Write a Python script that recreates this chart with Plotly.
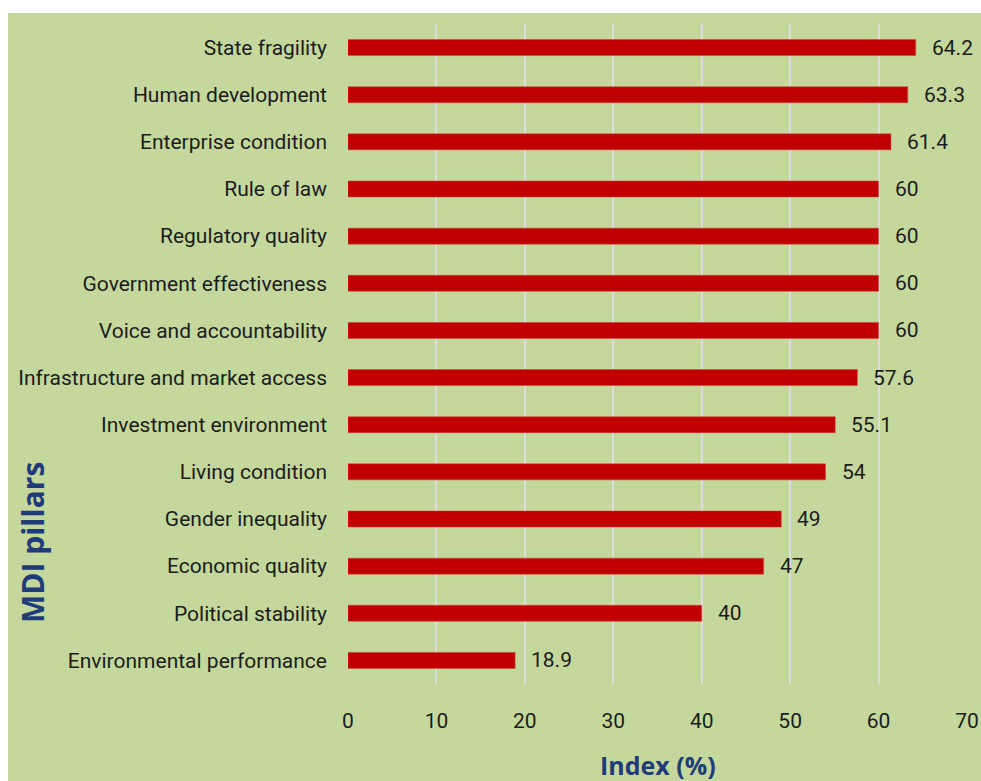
import plotly.graph_objects as go

# MDI pillar scores (index, %), listed top to bottom
pillars = [
    "State fragility",
    "Human development",
    "Enterprise condition",
    "Rule of law",
    "Regulatory quality",
    "Government effectiveness",
    "Voice and accountability",
    "Infrastructure and market access",
    "Investment environment",
    "Living condition",
    "Gender inequality",
    "Economic quality",
    "Political stability",
    "Environmental performance",
]
scores = [64.2, 63.3, 61.4, 60, 60, 60, 60, 57.6, 55.1, 54, 49, 47, 40, 18.9]
score_labels = ["64.2", "63.3", "61.4", "60", "60", "60", "60", "57.6", "55.1", "54", "49", "47", "40", "18.9"]
x_ticks = [0, 10, 20, 30, 40, 50, 60, 70]

W, H = 981, 781
L, R, T, B = 348, 14, 24, 97
pw, ph = W - L - R, H - T - B

GREEN = "#c4d79c"
FONT = "Roboto, 'Open Sans', sans-serif"
TITLE_FONT = "'Open Sans', sans-serif"
TXT = "#1c1c1c"
NAVY = "#1f3b7a"

fig = go.Figure()
fig.add_trace(go.Bar(
    x=scores,
    y=pillars,
    orientation="h",
    width=0.34,
    marker=dict(color="#c00000", line=dict(color="#d04040", width=0.5)),
    hoverinfo="x+y",
))

# value labels just past each bar end
for p, v, s in zip(pillars, scores, score_labels):
    fig.add_annotation(
        x=v, y=p, text=s, showarrow=False, xanchor="left", xshift=14,
        font=dict(family=FONT, size=21, color=TXT),
    )

# axis titles
fig.add_annotation(
    xref="paper", yref="paper", x=0.5, y=(T + ph - 765) / ph,
    text="<b>Index (%)</b>", showarrow=False, xanchor="center", yanchor="middle",
    font=dict(family=TITLE_FONT, size=25, color=NAVY),
)
fig.add_annotation(
    xref="paper", yref="paper", x=(32 - L) / pw, y=(T + ph - 543) / ph,
    text="<b>MDI pillars</b>", showarrow=False, textangle=-90,
    xanchor="center", yanchor="middle",
    font=dict(family=TITLE_FONT, size=30, color=NAVY),
)

# green panel with thin white border strips at top and left
fig.add_shape(
    type="rect", xref="paper", yref="paper", layer="below",
    x0=(8 - L) / pw, x1=(W - L) / pw + 0.01,
    y0=-(H - T - ph) / ph - 0.02, y1=(T + ph - 13) / ph,
    fillcolor=GREEN, line=dict(width=0),
)

fig.update_layout(
    width=W, height=H,
    margin=dict(l=L, r=R, t=T, b=B, autoexpand=False),
    paper_bgcolor="white",
    plot_bgcolor=GREEN,
    showlegend=False,
    bargap=0.66,
    xaxis=dict(
        range=[0, 70], tickvals=x_ticks, ticktext=[str(t) for t in x_ticks],
        showgrid=True, gridcolor="#dcdcdc", gridwidth=1.5, zeroline=False,
        showline=False, ticks="", ticklabelstandoff=22, automargin=False,
        tickfont=dict(family=FONT, size=21, color=TXT),
    ),
    yaxis=dict(
        categoryorder="array", categoryarray=pillars[::-1],
        showgrid=False, zeroline=False, showline=False, ticks="",
        ticklabelstandoff=20, automargin=False,
        tickfont=dict(family=FONT, size=21, color=TXT),
    ),
)

fig.write_html("out.html")
